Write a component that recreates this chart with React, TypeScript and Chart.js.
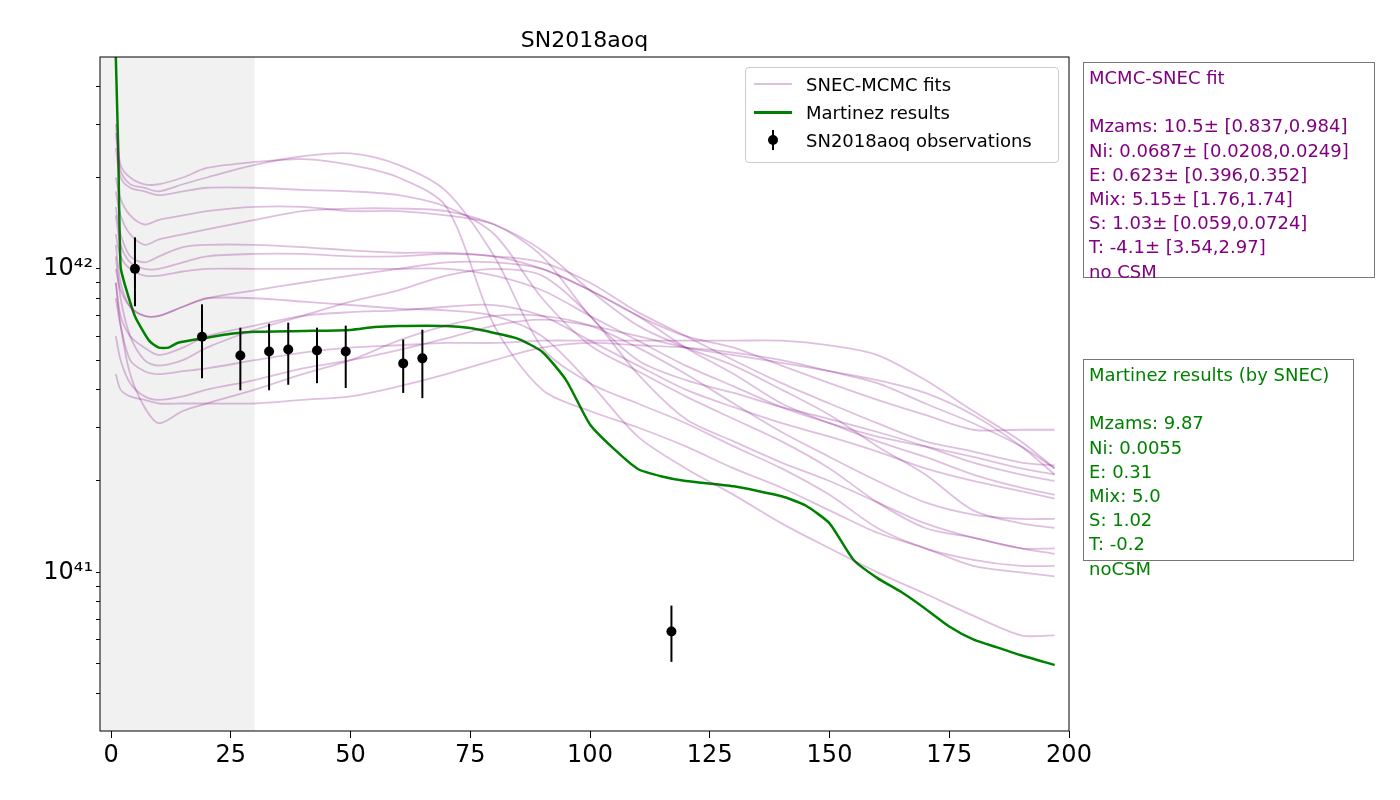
import { useEffect, useRef } from "react"
import { Chart, registerables } from "chart.js"

Chart.register(...registerables)

// luminosity in units of 1e41 erg/s
const fitDays = [1, 2, 4, 7, 10, 15, 20, 30, 40, 50, 60, 70, 80, 90, 100, 110, 120, 130, 140, 150, 160, 170, 180, 190, 197]
const fitCurves: number[][] = [
  [30, 22, 20, 19, 19, 20, 21.5, 22.5, 23, 22, 20, 16, 6.5, 4, 3.4, 3, 2.6, 2.2, 1.9, 1.6, 1.35, 1.2, 1.05, 1.0, 0.97],
  [28, 21, 19, 18.5, 18, 19, 20, 22, 23.5, 24, 22, 18, 11, 5.5, 4.2, 3.6, 3.1, 2.6, 2.2, 1.8, 1.4, 1.2, 1.1, 1.05, 1.05],
  [25, 20, 18.5, 18, 17.5, 18, 18.5, 18.5, 18.2, 18, 17.5, 16, 13, 8, 5.6, 4.6, 3.8, 3.2, 2.7, 2.2, 1.7, 1.4, 1.3, 1.2, 1.2],
  [20, 17, 15, 14, 14.5, 15, 15.5, 16, 16, 15.5, 15.5, 15, 14, 11, 7, 5, 4.3, 3.9, 3.5, 3.2, 2.9, 2.6, 2.3, 2.1, 2.0],
  [18, 15, 13, 12, 12.5, 13, 13.5, 14.5, 15.5, 15.8, 15.8, 15.5, 14, 11.5, 8.5, 6.5, 5.5, 4.8, 4, 3.3, 2.6, 2.1, 1.6, 1.45, 1.4],
  [16, 13, 11, 10.5, 11, 11.8, 12, 12, 11.8, 11.5, 11.3, 11.3, 11, 10, 8.5, 7, 6, 5.5, 4.8, 4.2, 3.7, 3.3, 2.95, 2.95, 2.95],
  [15, 12, 10.5, 10, 10, 10.5, 11, 11.2, 11.2, 11, 11, 11.2, 11, 10.5, 9, 7.2, 6, 5, 4.2, 3.6, 3.1, 2.7, 2.5, 2.3, 2.25],
  [13, 11, 10, 9.5, 9.5, 9.8, 10, 10, 10, 10, 10, 10, 9.5, 8.5, 7, 5.8, 4.8, 4.1, 3.5, 3.1, 2.8, 2.6, 2.4, 2.2, 2.1],
  [10, 8.5, 7.5, 7, 7, 7.5, 8, 8.5, 9, 9.5, 10, 10.5, 10.5, 10, 8.5, 7, 5.5, 4.5, 3.6, 3.1, 2.7, 2.4, 2.1, 1.9, 1.8],
  [9, 7, 6, 5.5, 5.2, 5.5, 6, 6.5, 7, 7.2, 7.3, 7.5, 7.6, 7, 5.8, 4.8, 4, 3.5, 3.1, 2.8, 2.5, 2.2, 2, 1.85, 1.75],
  [8, 6.5, 5, 4.6, 4.5, 4.6, 4.7, 5, 5.3, 5.5, 5.6, 5.7, 5.7, 5.8, 5.8, 5.8, 5.8, 5.8, 5.8, 5.6, 5.2, 4.3, 3.4, 2.7, 2.2],
  [6, 5, 4.2, 3.8, 3.7, 3.8, 4, 4.3, 4.7, 5, 5.4, 5.9, 6.5, 6.8, 6.5, 6, 5.5, 5.2, 4.9, 4.6, 4.3, 3.9, 3.3, 2.6, 2.1],
  [4.5, 4, 3.8, 3.7, 3.6, 3.6, 3.6, 3.6, 3.7, 3.8, 4.1, 4.5, 5, 5.5, 5.7, 5.6, 5.5, 5.3, 5, 4.6, 4.2, 3.6, 3.1, 2.6, 2.2],
  [12, 9, 7.5, 7, 7, 7.5, 8, 8, 7.8, 7.6, 7.4, 7.3, 7, 6, 4.2, 2.8, 2.2, 1.8, 1.45, 1.2, 1, 0.85, 0.72, 0.62, 0.62],
  [9, 6.5, 4.5, 3.5, 3.1, 3.4, 3.6, 4, 4.5, 5, 5.8, 6.5, 7, 7, 6.5, 5.5, 4.5, 3.6, 2.9, 2.4, 2, 1.7, 1.55, 1.5, 1.5],
  [11, 8, 6, 5, 4.8, 5, 5.5, 6.3, 7, 7.8, 8.5, 9.5, 10, 9.5, 7, 4.5, 3.2, 2.7, 2.3, 2, 1.7, 1.45, 1.3, 1.2, 1.15],
]

const martinezDays = [1, 1.5, 2, 3, 5, 8, 10, 12, 14, 20, 25, 30, 40, 50, 55, 60, 70, 75, 80, 85, 90, 95, 100, 105, 110, 115, 120, 130, 140, 145, 150, 155, 160, 165, 170, 175, 180, 185, 190, 197]
const martinezLum = [50, 24.9, 10.15, 8.75, 6.98, 5.79, 5.5, 5.5, 5.71, 5.93, 6.11, 6.2, 6.24, 6.29, 6.43, 6.48, 6.48, 6.38, 6.15, 5.88, 5.33, 4.3, 3.07, 2.55, 2.19, 2.07, 2.0, 1.92, 1.78, 1.66, 1.45, 1.1, 0.957, 0.861, 0.759, 0.663, 0.601, 0.566, 0.533, 0.495]

const obsDays = [5, 19, 27, 33, 37, 43, 49, 61, 65, 117]
const obsLum = [10, 5.97, 5.18, 5.34, 5.42, 5.38, 5.34, 4.88, 5.07, 0.638]
const obsLow = [7.53, 4.36, 3.98, 3.98, 4.15, 4.2, 4.05, 3.9, 3.75, 0.507]
const obsHigh = [12.7, 7.64, 6.4, 6.6, 6.65, 6.4, 6.5, 5.85, 6.3, 0.777]

const xTicks = [0, 25, 50, 75, 100, 125, 150, 175, 200]
const yTicks = [0.4, 0.5, 0.6, 0.7, 0.8, 0.9, 1, 2, 3, 4, 5, 6, 7, 8, 9, 10, 20, 30, 40]

const font = "'DejaVu Sans', sans-serif"

const framePlugin = {
  id: "frame",
  beforeDatasetsDraw(chart: any) {
    const { ctx, chartArea, scales } = chart
    const x30 = scales.x.getPixelForValue(30)
    ctx.save()
    ctx.fillStyle = "rgba(128,128,128,0.11)"
    ctx.fillRect(chartArea.left, chartArea.top, x30 - chartArea.left, chartArea.bottom - chartArea.top)
    ctx.restore()
  },
  afterDatasetsDraw(chart: any) {
    const { ctx, chartArea, scales } = chart
    ctx.save()
    ctx.strokeStyle = "#000"
    ctx.lineWidth = 2
    obsDays.forEach((d, i) => {
      const px = scales.x.getPixelForValue(d)
      ctx.beginPath()
      ctx.moveTo(px, scales.y.getPixelForValue(obsLow[i]))
      ctx.lineTo(px, scales.y.getPixelForValue(obsHigh[i]))
      ctx.stroke()
    })
    ctx.fillStyle = "#000"
    obsDays.forEach((d, i) => {
      ctx.beginPath()
      ctx.arc(scales.x.getPixelForValue(d), scales.y.getPixelForValue(obsLum[i]), 5, 0, Math.PI * 2)
      ctx.fill()
    })
    ctx.lineWidth = 1
    ctx.strokeRect(chartArea.left, chartArea.top, chartArea.right - chartArea.left, chartArea.bottom - chartArea.top)
    ctx.restore()
  },
}

export default function App() {
  const ref = useRef<HTMLCanvasElement>(null)

  useEffect(() => {
    if (!ref.current) return
    const datasets: any[] = fitCurves.map((c) => ({
      data: fitDays.map((d, i) => ({ x: d, y: c[i] })),
      borderColor: "rgba(128,0,128,0.25)",
      borderWidth: 1.8,
      pointRadius: 0,
      tension: 0.3,
    }))
    datasets.push({
      data: martinezDays.map((d, i) => ({ x: d, y: martinezLum[i] })),
      borderColor: "#008000",
      borderWidth: 2.5,
      pointRadius: 0,
      tension: 0.2,
    })
    const chart = new Chart(ref.current, {
      type: "line",
      data: { datasets },
      plugins: [framePlugin],
      options: {
        animation: false,
        responsive: false,
        clip: true as any,
        layout: { padding: { top: 57, right: 331 } },
        plugins: { legend: { display: false }, tooltip: { enabled: false } },
        scales: {
          x: {
            type: "linear",
            min: -2.3,
            max: 200,
            afterBuildTicks: (s: any) => { s.ticks = xTicks.map((v) => ({ value: v })) },
            afterFit: (s: any) => { s.height = 69 },
            grid: { drawOnChartArea: false, tickLength: 7, color: "#000" },
            border: { display: false },
            ticks: { color: "#000", font: { family: font, size: 24 }, maxRotation: 0 },
          },
          y: {
            type: "logarithmic",
            min: 0.324,
            max: 49.9,
            afterBuildTicks: (s: any) => { s.ticks = yTicks.map((v) => ({ value: v })) },
            afterFit: (s: any) => { s.width = 100 },
            grid: { drawOnChartArea: false, tickLength: 4, color: "#000" },
            border: { display: false },
            ticks: {
              color: "#000",
              autoSkip: false,
              font: { family: font, size: 24 },
              callback: (v: any) => (v === 1 ? "10⁴¹" : v === 10 ? "10⁴²" : ""),
            },
          },
        },
      },
    })
    return () => chart.destroy()
  }, [])

  const legendRow = (sample: any, label: string) => (
    <div style={{ display: "flex", alignItems: "center", height: 28 }}>
      <div style={{ width: 54, display: "flex", justifyContent: "center", position: "relative" }}>{sample}</div>
      <span style={{ marginLeft: 6 }}>{label}</span>
    </div>
  )

  return (
    <div style={{ position: "absolute", left: 0, top: 0, width: 1400, height: 800, background: "#fff", fontFamily: font }}>
      <canvas ref={ref} width={1400} height={800} />
      <div style={{ position: "absolute", left: 0, width: 1169, top: 27, textAlign: "center", fontSize: 22 }}>SN2018aoq</div>
      <div style={{ position: "absolute", left: 745, top: 67, width: 312, height: 90, border: "1px solid #ccc", borderRadius: 4, background: "rgba(255,255,255,0.85)", fontSize: 18, padding: "2px 0" }}>
        {legendRow(<div style={{ width: 38, height: 2, background: "rgba(128,0,128,0.25)" }} />, "SNEC-MCMC fits")}
        {legendRow(<div style={{ width: 38, height: 3, background: "#008000" }} />, "Martinez results")}
        {legendRow(
          <div style={{ position: "relative", width: 38, height: 20 }}>
            <div style={{ position: "absolute", left: 18, top: 0, width: 2, height: 20, background: "#000" }} />
            <div style={{ position: "absolute", left: 14, top: 5, width: 10, height: 10, borderRadius: 5, background: "#000" }} />
          </div>,
          "SN2018aoq observations"
        )}
      </div>
      <div style={{ position: "absolute", left: 1083, top: 62, width: 280, height: 208, border: "1px solid #777", padding: "3px 5px", color: "#800080", fontSize: 18, lineHeight: "24.2px", whiteSpace: "pre" }}>
        {"MCMC-SNEC fit\n\nMzams: 10.5± [0.837,0.984]\nNi: 0.0687± [0.0208,0.0249]\nE: 0.623± [0.396,0.352]\nMix: 5.15± [1.76,1.74]\nS: 1.03± [0.059,0.0724]\nT: -4.1± [3.54,2.97]\nno CSM"}
      </div>
      <div style={{ position: "absolute", left: 1083, top: 359, width: 259, height: 194, border: "1px solid #777", padding: "3px 5px", color: "#008000", fontSize: 18, lineHeight: "24.2px", whiteSpace: "pre" }}>
        {"Martinez results (by SNEC)\n\nMzams: 9.87\nNi: 0.0055\nE: 0.31\nMix: 5.0\nS: 1.02\nT: -0.2\nnoCSM"}
      </div>
    </div>
  )
}
